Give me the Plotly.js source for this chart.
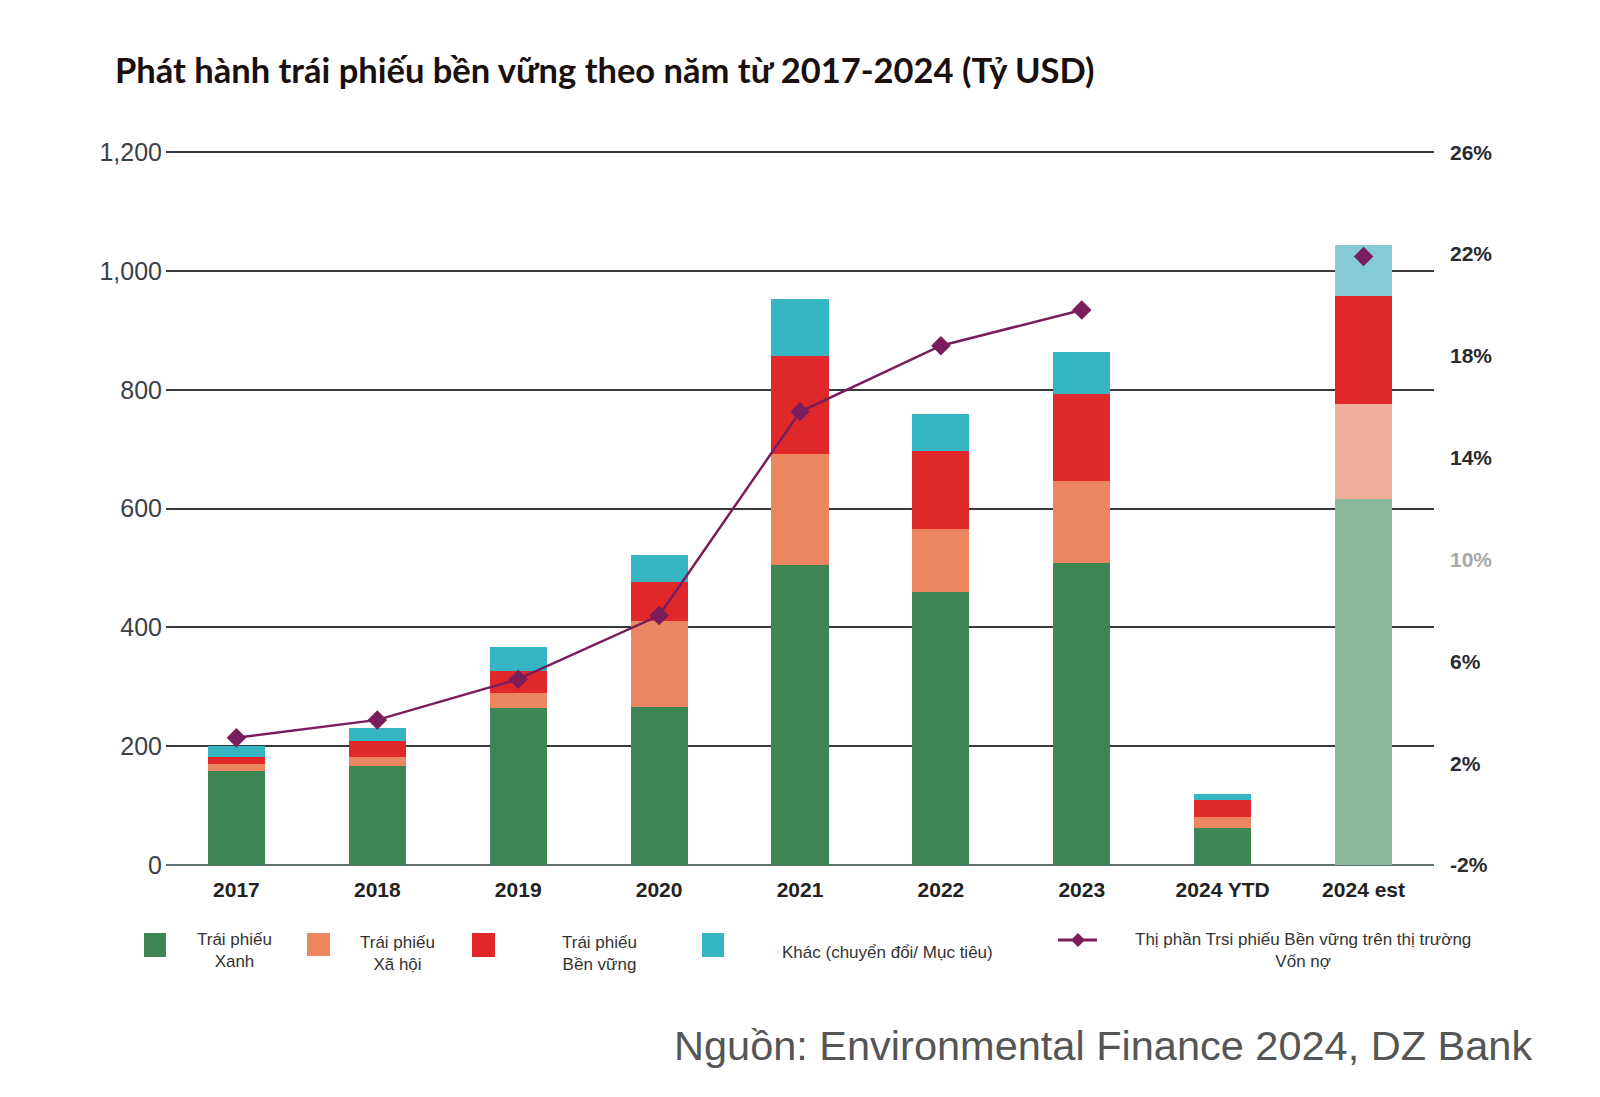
<!DOCTYPE html>
<html><head><meta charset="utf-8">
<script src="https://cdn.plot.ly/plotly-3.0.1.min.js"></script>
<style>html,body{margin:0;padding:0;background:#fff}#chart{width:1600px;height:1097px}</style>
</head><body><div id="chart"></div>
<script>
// ---- data ----
const categories = ["2017","2018","2019","2020","2021","2022","2023","2024 YTD","2024 est"];
const greenBonds = [158,167,264,266,505,460,508,63,616];
const socialBonds = [12,15,25,144,187,106,139,18,160];
const sustainabilityBonds = [12,27,37,67,165,131,146,28,182];
const otherBonds = [18,21,41,45,96,62,70,10,85];
const marketShare = [3.0,3.7,5.3,7.8,15.8,18.4,19.8,null,21.9];
const seriesNames = ["Trái phiếu<br>Xanh","Trái phiếu<br>Xã hội","Trái phiếu<br>Bền vững","Khác (chuyển đổi/ Mục tiêu)","Thị phần Trsi phiếu Bền vững trên thị trường<br>Vốn nợ"];
const leftTicks = [0,200,400,600,800,1000,1200];
const rightTicks = [-2,2,6,10,14,18,22,26];
const titleText = "Phát hành trái phiếu bền vững theo năm từ 2017-2024 (Tỷ USD)";
const sourceText = "Nguồn: Environmental Finance 2024, DZ Bank";

// ---- styles ----
const W = 1600, H = 1097, ML = 166, MR = 166, MT = 151, MB = 232;
const PW = W - ML - MR, PH = H - MT - MB;
const X = px => (px - ML) / PW;
const Y = py => (H - MB - py) / PH;
const baseColors = ["#3d8654", "#ec8660", "#e0282a", "#35b5c2"];
const estColors = ["#8cb89a", "#f1ae98", "#e0282a", "#85ccd6"];
const lineColor = "#7a1d5c";
function colorArr(i) { return categories.map((c, k) => k === categories.length - 1 ? estColors[i] : baseColors[i]); }

const barSeries = [greenBonds, socialBonds, sustainabilityBonds, otherBonds];
const traces = barSeries.map((vals, i) => ({
  type: "bar", x: categories, y: vals, name: seriesNames[i].replace("<br>", " "),
  marker: { color: colorArr(i), line: { width: 0 } }, showlegend: false
}));
traces.push({
  type: "scatter", mode: "lines+markers", x: categories, y: marketShare, yaxis: "y2",
  name: seriesNames[4].replace("<br>", " "), connectgaps: false,
  line: { color: lineColor, width: 2.5 },
  marker: { symbol: "diamond", size: 15, color: lineColor }, showlegend: false
});

const legendFont = { family: "Liberation Sans, Arial, sans-serif", size: 17, color: "#333" };
const annotations = [
  { text: seriesNames[0], x: X(234), y: Y(950) },
  { text: seriesNames[1], x: X(397), y: Y(953) },
  { text: seriesNames[2], x: X(599), y: Y(953) },
  { text: seriesNames[3], x: X(887), y: Y(952) },
  { text: seriesNames[4], x: X(1303), y: Y(950) }
].map(a => Object.assign(a, { xref: "paper", yref: "paper", xanchor: "center", yanchor: "middle", align: "center", showarrow: false, font: legendFont }));
annotations.push({
  text: sourceText, xref: "paper", yref: "paper", x: X(1534), y: Y(1045), xanchor: "right", yanchor: "middle",
  showarrow: false, font: { family: "Liberation Sans, Arial, sans-serif", size: 41.5, color: "#555" }
});

const sw = (x0, x1, y0, y1, c) => ({ type: "rect", xref: "paper", yref: "paper", x0: X(x0), x1: X(x1), y0: Y(y1), y1: Y(y0), fillcolor: c, line: { width: 0 } });
const dx = 7 / PW, dy = 7 / PH, cx = X(1078), cy = Y(940);
const shapes = [
  sw(144, 166, 933, 957, baseColors[0]),
  sw(307, 330, 933, 956, baseColors[1]),
  sw(472, 495, 933, 957, baseColors[2]),
  sw(702, 724, 933, 957, baseColors[3]),
  { type: "line", xref: "paper", yref: "paper", x0: X(1058), x1: X(1097), y0: cy, y1: cy, line: { color: lineColor, width: 3 } },
  { type: "path", xref: "paper", yref: "paper", path: `M ${cx} ${cy + dy} L ${cx + dx} ${cy} L ${cx} ${cy - dy} L ${cx - dx} ${cy} Z`, fillcolor: lineColor, line: { width: 0 } }
];

const layout = {
  width: W, height: H, margin: { l: ML, r: MR, t: MT, b: MB, pad: 0 },
  paper_bgcolor: "#fff", plot_bgcolor: "#fff",
  barmode: "stack", bargap: 0.595,
  title: { text: titleText, xref: "container", yref: "container", x: 115 / W, xanchor: "left", y: 1 - 71 / H, yanchor: "middle",
    font: { family: "Lato, Liberation Sans, sans-serif", size: 34.5, weight: 700, color: "#1a1010" } },
  xaxis: { type: "category", range: [-0.5, 8.5], showgrid: false, showline: false, zeroline: false, ticks: "",
    tickfont: { family: "Liberation Sans, Arial, sans-serif", size: 21, weight: 700, color: "#222" }, ticklabelstandoff: 10, fixedrange: true },
  yaxis: { range: [0, 1202], tickvals: leftTicks, ticktext: leftTicks.map(v => v.toLocaleString("en-US")),
    showgrid: true, gridcolor: "#3a3a3a", gridwidth: 2, zeroline: true, zerolinecolor: "#637070", zerolinewidth: 2,
    showline: false, ticks: "", ticklabelstandoff: 3,
    tickfont: { family: "Liberation Sans, Arial, sans-serif", size: 25, color: "#3a3f48" } },
  yaxis2: { overlaying: "y", side: "right", range: [-2, 26.047], tickvals: rightTicks,
    ticktext: rightTicks.map(v => v === 10 ? '<span style="color:#a8a8a8">10%</span>' : v + "%"),
    showgrid: false, zeroline: false, showline: false, ticks: "", ticklabelstandoff: 15,
    tickfont: { family: "Liberation Sans, Arial, sans-serif", size: 21, weight: 700, color: "#2a2a30" } },
  annotations: annotations, shapes: shapes, showlegend: false
};
Plotly.newPlot("chart", traces, layout, { displayModeBar: false, staticPlot: true });
</script></body></html>
